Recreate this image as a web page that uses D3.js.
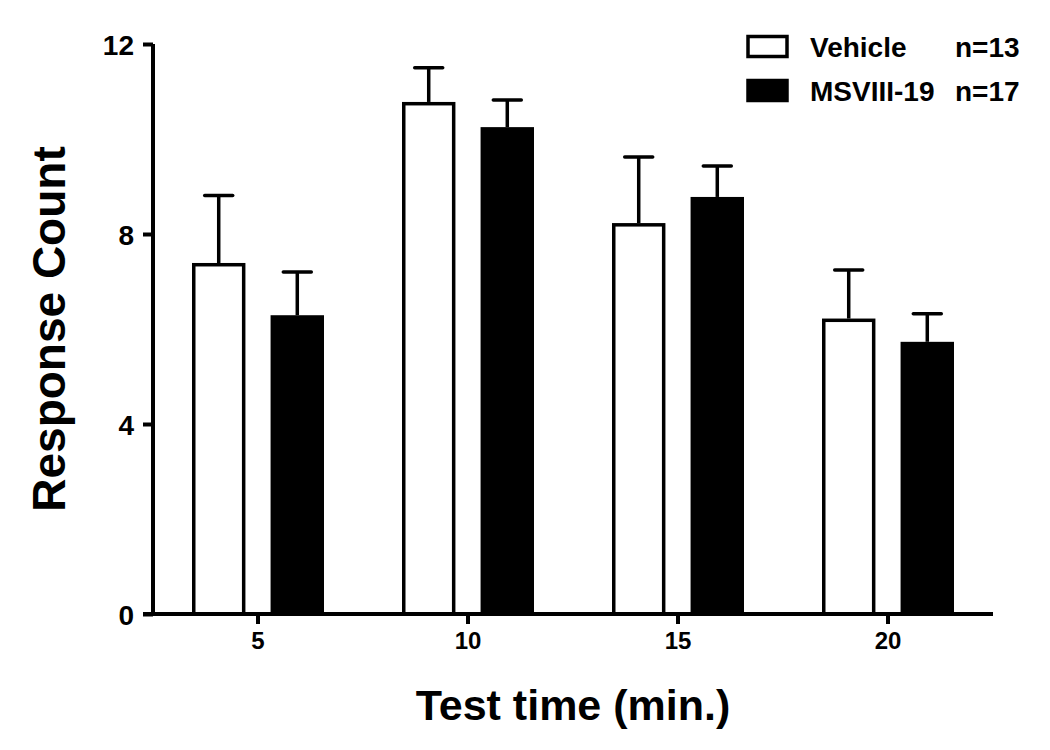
<!DOCTYPE html>
<html>
<head>
<meta charset="utf-8">
<script src="https://cdn.jsdelivr.net/npm/d3@7"></script>
<style>
  html, body { margin: 0; padding: 0; background: #fff; }
  svg { display: block; }
  text { font-family: "Liberation Sans", Arial, sans-serif; font-weight: bold; fill: #000; }
</style>
</head>
<body>
<svg id="chart" width="1050" height="750"></svg>
<script>
const categories = ["5", "10", "15", "20"];
const seriesNames = ["Vehicle", "MSVIII-19"];
const seriesN = ["n=13", "n=17"];
const vehicleMean = [7.39, 10.78, 8.23, 6.22];
const vehicleErr  = [1.42, 0.72, 1.39, 1.02];
const msviiiMean  = [6.29, 10.25, 8.78, 5.73];
const msviiiErr   = [0.91, 0.57, 0.65, 0.59];
const yTicks = [0, 4, 8, 12];
const xTitle = "Test time (min.)";
const yTitle = "Response Count";

(function () {
const svg = d3.select("#chart");
const mL = 153, mR = 993, mT = 44, mB = 614;
const sw = 3.5;

const x = d3.scaleBand().domain(categories).range([mL, mR]).padding(0);
const xs = d3.scaleBand().domain(seriesNames).range([39, 171]).paddingInner(0.32);
const y = d3.scaleLinear().domain([0, 12]).range([mB, mT]);

const data = [];
categories.forEach((c, i) => {
  data.push({cat: c, s: seriesNames[0], mean: vehicleMean[i], err: vehicleErr[i]});
  data.push({cat: c, s: seriesNames[1], mean: msviiiMean[i], err: msviiiErr[i]});
});
const fillOf = s => s === seriesNames[0] ? "#fff" : "#000";
const cx = d => x(d.cat) + xs(d.s) + xs.bandwidth() / 2;

// error bars
const eb = svg.append("g");
eb.selectAll("line.v").data(data).join("line").attr("class", "v")
  .attr("x1", cx).attr("x2", cx)
  .attr("y1", d => y(d.mean))
  .attr("y2", d => y(d.mean + d.err))
  .attr("stroke", "#000").attr("stroke-width", sw);
eb.selectAll("line.c").data(data).join("line").attr("class", "c")
  .attr("x1", d => cx(d) - 14)
  .attr("x2", d => cx(d) + 14)
  .attr("y1", d => y(d.mean + d.err))
  .attr("y2", d => y(d.mean + d.err))
  .attr("stroke", "#000").attr("stroke-width", sw).attr("stroke-linecap", "round");

// bars
svg.append("g").selectAll("rect").data(data).join("rect")
  .attr("x", d => x(d.cat) + xs(d.s) + sw / 2)
  .attr("width", xs.bandwidth() - sw)
  .attr("y", d => y(d.mean) + sw / 2)
  .attr("height", d => y(0) - y(d.mean) - sw / 2)
  .attr("fill", d => fillOf(d.s))
  .attr("stroke", "#000").attr("stroke-width", sw);

// y axis
const yAxis = svg.append("g").attr("transform", `translate(${mL},0)`)
  .call(d3.axisLeft(y).tickValues(yTicks).tickSize(10).tickPadding(9).tickFormat(d3.format("d")));
yAxis.select(".domain").attr("stroke-width", 4).attr("d", `M0,${mT}V${mB}`);
yAxis.selectAll(".tick line").attr("stroke-width", 4);
yAxis.selectAll(".tick text").style("font-size", "28px").attr("dy", "0.36em");

// x axis
const xAxis = svg.append("g").attr("transform", `translate(0,${mB})`)
  .call(d3.axisBottom(x).tickSize(10).tickPadding(8));
xAxis.select(".domain").attr("stroke-width", 4).attr("d", `M${mL - 10},0H${mR}`);
xAxis.selectAll(".tick line").attr("stroke-width", 4);
xAxis.selectAll(".tick text").style("font-size", "24px");

// titles
svg.append("text").attr("x", (mL + mR) / 2).attr("y", 720)
  .attr("text-anchor", "middle").style("font-size", "43px").text(xTitle);
svg.append("text").attr("transform", `translate(65,${(mT + mB) / 2}) rotate(-90)`)
  .attr("text-anchor", "middle").style("font-size", "46px").text(yTitle);

// legend
const lg = svg.append("g");
seriesNames.forEach((s, i) => {
  const yy = 35 + i * 44;
  lg.append("rect").attr("x", 748).attr("y", yy + 1.5).attr("width", 39).attr("height", 20)
    .attr("fill", fillOf(s)).attr("stroke", "#000").attr("stroke-width", sw);
  lg.append("text").attr("x", 810).attr("y", yy + 22).style("font-size", "28px").text(s);
  lg.append("text").attr("x", 955).attr("y", yy + 22).style("font-size", "28px").text(seriesN[i]);
});
})();
</script>
</body>
</html>
